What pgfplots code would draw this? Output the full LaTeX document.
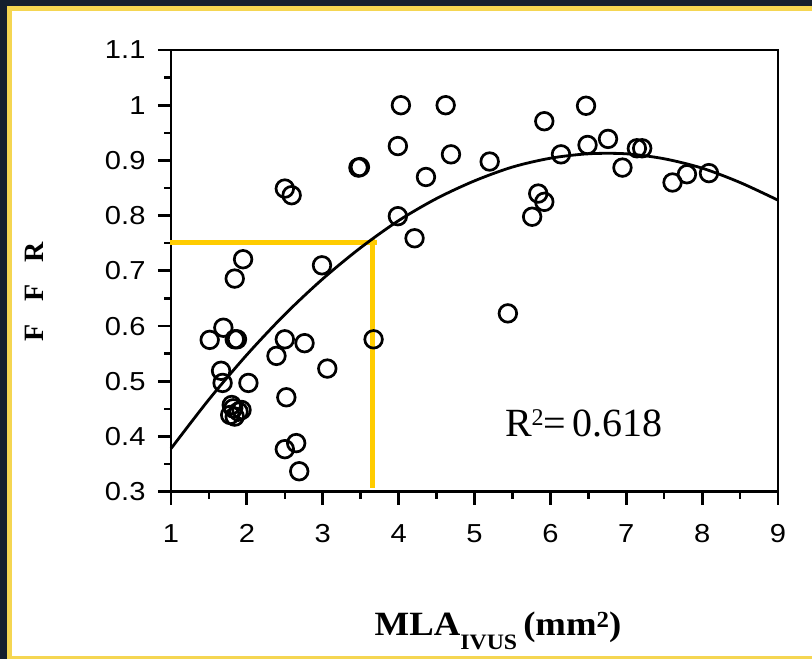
\documentclass[border=0pt]{standalone}
\usepackage{fontspec}
\setmainfont{Liberation Serif}
\setsansfont{Liberation Sans}
\usepackage{pgfplots}
\pgfplotsset{compat=1.18}
\definecolor{navy}{RGB}{21,31,46}
\definecolor{bordery}{RGB}{245,214,82}
\definecolor{gold}{RGB}{255,204,0}
\begin{document}
\begin{tikzpicture}[x=1pt,y=1pt]
\fill[navy] (0,0) rectangle (812,659);
\fill[white] (9.3,0.5) rectangle (830,650.7);
\draw[bordery, line width=4.5pt] (9.3,0.5) rectangle (830,650.7);
\begin{axis}[at={(171pt,167.3pt)}, anchor=south west, scale only axis,
  width=607pt, height=441.7pt,
  xmin=1, xmax=9, ymin=0.3, ymax=1.1,
  xtick={1,2,3,4,5,6,7,8,9},
  ytick={0.3,0.4,0.5,0.6,0.7,0.8,0.9,1,1.1},
  minor tick num=1, tick pos=left, tick align=outside,
  major tick length=13pt, minor tick length=7pt,
  axis line style={line width=2.8pt},
  major tick style={line width=2.8pt, black},
  minor tick style={line width=2.5pt, black},
  /pgf/number format/assume math mode=true,
  tick label style={font=\sffamily\fontsize{26}{26}\selectfont},
  xticklabel={\scalebox{1.12}[1]{\pgfmathprintnumber{\tick}}},
  yticklabel={\scalebox{1.12}[1]{\pgfmathprintnumber{\tick}}},
  xticklabel style={yshift=-16pt},
  yticklabel style={xshift=-9pt},
  clip=false,
]
\addplot[gold, line width=5pt] coordinates {(0.99,0.752) (3.71,0.752)};
\addplot[gold, line width=5pt] coordinates {(3.66,0.757) (3.66,0.306)};
\addplot[black, line width=2.8pt, smooth] coordinates {
(1,0.378) (1.5,0.467) (2,0.548) (2.5,0.621) (3,0.6855) (3.5,0.742) (4,0.791)
(4.5,0.831) (5,0.863) (5.5,0.888) (6,0.904) (6.5,0.912) (7,0.912) (7.5,0.903)
(8,0.886) (8.5,0.860) (9,0.828)};
\addplot[only marks, mark=o, mark size=8.8pt, mark options={line width=2.7pt, black}] coordinates {
(4.03,1.0) (4.62,1.0) (6.47,0.999) (5.92,0.971) (3.99,0.926) (4.69,0.911)
(5.20,0.898) (3.47,0.887) (3.49,0.888) (4.36,0.870) (2.50,0.849) (2.59,0.837)
(3.99,0.799) (4.21,0.759) (1.95,0.721) (1.84,0.686) (2.99,0.710) (6.14,0.911)
(6.49,0.928) (6.76,0.939) (7.14,0.922) (7.21,0.922) (6.95,0.887) (5.84,0.840)
(5.92,0.825) (5.76,0.798) (7.61,0.860) (7.80,0.875) (8.09,0.877) (5.44,0.623)
(1.51,0.575) (1.69,0.597) (1.84,0.576) (1.87,0.576) (2.50,0.576) (2.76,0.569)
(2.39,0.546) (3.67,0.576) (3.06,0.523) (1.66,0.519) (1.68,0.497) (2.02,0.497)
(1.82,0.451) (1.89,0.445) (1.84,0.436) (1.78,0.439) (1.93,0.448) (1.80,0.457)
(2.52,0.471) (2.50,0.377) (2.65,0.388) (2.69,0.337)};
\node[anchor=base west, inner sep=0pt, font=\fontsize{40}{40}\selectfont] at (axis cs:5.40,0.40)
  {R\raisebox{11pt}{\fontsize{24}{24}\selectfont 2}=\,0.618};
\end{axis}
\node[rotate=90, font=\bfseries\fontsize{28}{28}\selectfont] at (34,367.5) {F\hspace{0.8em}F\hspace{0.8em}R};
\node[anchor=base, inner sep=0pt] at (498,23) {\bfseries\scalebox{1.08}[1]{\fontsize{34}{34}\selectfont MLA\raisebox{-14pt}{\fontsize{22}{22}\selectfont IVUS}\,(mm\raisebox{8pt}{\fontsize{23}{23}\selectfont 2})}};
\pgfresetboundingbox
\path (0,0) rectangle (812,659);
\end{tikzpicture}
\end{document}
